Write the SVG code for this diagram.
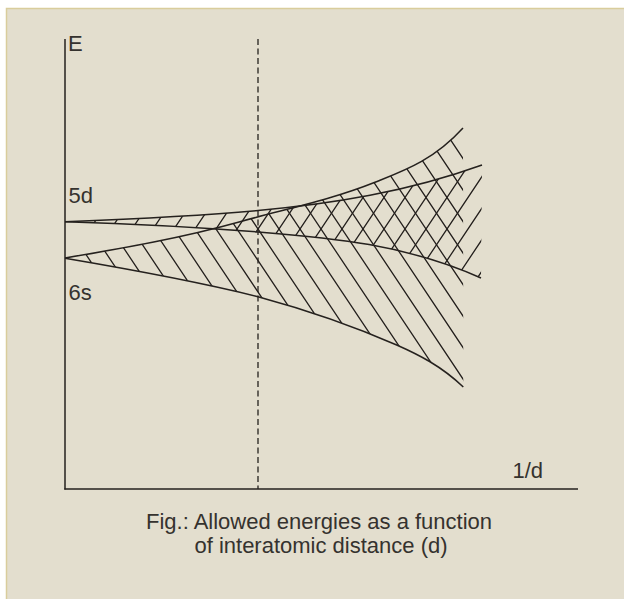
<svg xmlns="http://www.w3.org/2000/svg" width="624" height="599" viewBox="0 0 624 599">
  <style>
    .txt { font-family: "Liberation Sans", Arial, sans-serif; font-size: 22px; fill: #35322e; }
    .curve { fill: none; stroke: #25211e; stroke-width: 1.5; }
    .hatch { fill: none; stroke: #25211e; stroke-width: 1.3; }
    .axis { fill: none; stroke: #25211e; stroke-width: 1.5; }
  </style>
  <defs>
    <clipPath id="clip6s">
      <path d="M65,258 C123,248.1 182,237.9 240,221.7 C285,209.1 330,200.3 375,182.3 C404.3,170.6 433.7,160.2 463,128 L463.3,387 C441.1,365.9 418.9,354.8 396.7,345 C350.5,324.7 304.2,309.2 258,296.7 C193.7,280.6 129.3,269.2 65,258.3 Z"/>
    </clipPath>
    <clipPath id="clip5d">
      <path d="M65,221.7 C129.3,219.1 193.7,216.3 258,210.5 C332.7,203.8 407.3,191.9 482,165 L481,278 C406,244.4 332,237.9 258,232 C193.7,226.9 129.3,223.6 65,221.7 Z"/>
    </clipPath>
  </defs>

  <rect id="panel" x="6.5" y="8.5" width="630" height="600" fill="#e3dece" stroke="#d9cd9c" stroke-width="1.5"/>

  <g id="axes">
    <line class="axis" x1="65" y1="39" x2="65" y2="489.5"/>
    <line class="axis" x1="64.3" y1="489" x2="578" y2="489"/>
    <text class="txt" x="68" y="50.5">E</text>
    <text class="txt" x="512.5" y="478">1/d</text>
  </g>

  <g id="band-6s">
    <g clip-path="url(#clip6s)">
      <path class="hatch" d="M-59,100 l200,300 M-38,100 l200,300 M-17,100 l200,300 M4,100 l200,300 M25,100 l200,300 M46,100 l200,300 M67,100 l200,300 M88,100 l200,300 M109,100 l200,300 M130,100 l200,300 M151,100 l200,300 M172,100 l200,300 M193,100 l200,300 M214,100 l200,300 M235,100 l200,300 M256,100 l200,300 M277,100 l200,300 M298,100 l200,300 M319,100 l200,300 M340,100 l200,300 M361,100 l200,300 M382,100 l200,300 M403,100 l200,300 M424,100 l200,300 M445,100 l200,300"/>
    </g>
    <path class="curve" d="M65,258 C123,248.1 182,237.9 240,221.7 C285,209.1 330,200.3 375,182.3 C404.3,170.6 433.7,160.2 463,128"/>
    <path class="curve" d="M65,258.3 C129.3,269.2 193.7,280.6 258,296.7 C304.2,309.2 350.5,324.7 396.7,345 C418.9,354.8 441.1,365.9 463.3,387"/>
    <text class="txt" x="68.5" y="300">6s</text>
  </g>

  <g id="band-5d">
    <g clip-path="url(#clip5d)">
      <path class="hatch" d="M134,100 l-200,300 M155,100 l-200,300 M176,100 l-200,300 M197,100 l-200,300 M218,100 l-200,300 M239,100 l-200,300 M260,100 l-200,300 M281,100 l-200,300 M302,100 l-200,300 M323,100 l-200,300 M344,100 l-200,300 M365,100 l-200,300 M386,100 l-200,300 M407,100 l-200,300 M428,100 l-200,300 M449,100 l-200,300 M470,100 l-200,300 M491,100 l-200,300 M512,100 l-200,300 M533,100 l-200,300 M554,100 l-200,300 M575,100 l-200,300 M596,100 l-200,300 M617,100 l-200,300"/>
    </g>
    <path class="curve" d="M65,221.7 C129.3,219.1 193.7,216.3 258,210.5 C332.7,203.8 407.3,191.9 482,165"/>
    <path class="curve" d="M65,221.7 C129.3,223.6 193.7,226.9 258,232 C332,237.9 406,244.4 481,278"/>
    <text class="txt" x="68.5" y="202.5">5d</text>
  </g>

  <g id="connectors">
    <line x1="258" y1="39" x2="258" y2="489" stroke="#25211e" stroke-width="1.3" stroke-dasharray="6 3.5"/>
  </g>

  <g id="caption">
    <text class="txt" x="319" y="529" text-anchor="middle">Fig.: Allowed energies as a function</text>
    <text class="txt" x="321" y="553" text-anchor="middle">of interatomic distance (d)</text>
  </g>
</svg>
